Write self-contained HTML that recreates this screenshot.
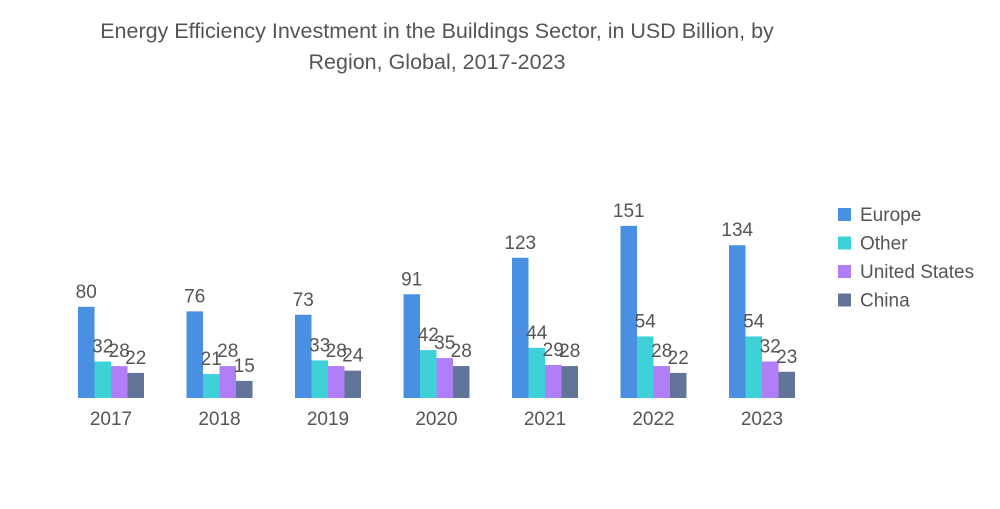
<!DOCTYPE html>
<html><head><meta charset="utf-8"><style>
body{margin:0;background:#fff;font-family:"Liberation Sans",sans-serif}
svg text{font-family:"Liberation Sans",sans-serif;fill:#555}
</style></head><body>
<svg width="1000" height="504">
<g>
<text x="437" y="38" font-size="21.5" text-anchor="middle">Energy Efficiency Investment in the Buildings Sector, in USD Billion, by</text>
<text x="437" y="69" font-size="21.5" text-anchor="middle">Region, Global, 2017-2023</text>
</g>
<g id="bars"></g>
<g id="legend"></g>
</svg>
<script>
const years=["2017","2018","2019","2020","2021","2022","2023"];
const seriesNames=["Europe","Other","United States","China"];
const europe=[80,76,73,91,123,151,134];
const other=[32,21,33,42,44,54,54];
const us=[28,28,28,35,29,28,32];
const china=[22,15,24,28,28,22,23];
const colors=["#4a90e2","#3fd1d8","#b07ff7","#627599"];
const all=[europe,other,us,china];
const NS="http://www.w3.org/2000/svg";
const base=398,scale=1.14,x0=78,step=108.5,bw=16.5;
const yS=v=>base-v*scale;
const gx=i=>x0+i*step;
const g=document.getElementById('bars');
function mk(t,a){const e=document.createElementNS(NS,t);for(const k in a)e.setAttribute(k,a[k]);return e;}
years.forEach((yr,i)=>{
  all.forEach((s,j)=>{
    const x=gx(i)+j*bw,y=yS(s[i]);
    const r=mk('rect',{x:x,y:y,width:bw,height:base-y,fill:colors[j]});
    
    
    g.appendChild(r);
    const t=mk('text',{x:x+bw/2,y:y-9,'font-size':19,'text-anchor':'middle'});
    t.textContent=s[i];
    
    
    g.appendChild(t);
  });
  const t=mk('text',{x:gx(i)+2*bw,y:425,'font-size':19,'text-anchor':'middle'});
  t.textContent=yr;
  
  
  g.appendChild(t);
});
const lg=document.getElementById('legend');
seriesNames.forEach((n,j)=>{
  const y=208+j*28.5;
  const r=mk('rect',{x:838,y:y,width:13,height:13,fill:colors[j]});
  
  
  lg.appendChild(r);
  const t=mk('text',{x:860,y:y+13,'font-size':19});
  t.textContent=n;
  
  
  lg.appendChild(t);
});
</script>
</body></html>
